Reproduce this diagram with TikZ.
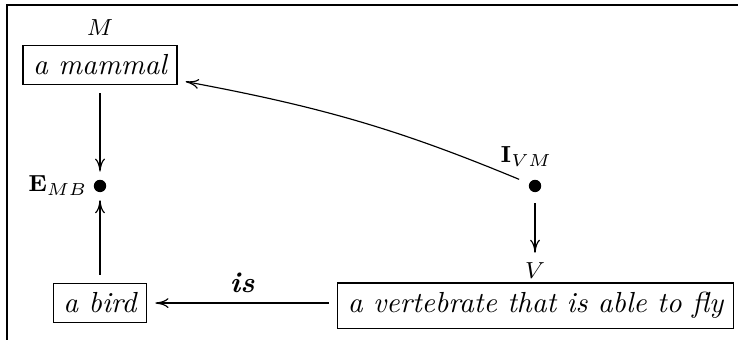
\documentclass[tikz,border=0pt]{standalone}
\usepackage{amsmath}
\usetikzlibrary{positioning,arrows.meta}
\tikzset{
  >={Computer Modern Rightarrow[length=4.5pt,width=3.4pt]},
  concept/.style={draw, inner xsep=3.5pt, inner ysep=3.3pt, outer sep=3pt, font=\itshape, anchor=base},
  relnode/.style={circle, fill, inner sep=0pt, minimum size=1.5mm, outer sep=0pt},
  tag/.style={font=\footnotesize},
}

\begin{document}
\begin{tikzpicture}[->]
    \useasboundingbox (0,0) rectangle (8.937,4.117);
    % frame
    \draw[-] (0.085,-0.2) -- (0.085,4.057) -- (9.2,4.057);
    % concepts
    \node[concept, anchor=center,
          label={[tag, inner sep=1pt, label distance=-1pt]above:$M$}] (mammal) at (1.211,3.330) {a mammal};
    \node[concept] (bird) at (1.211,0.327) {a bird};
    \node[concept] (vert) at (6.485,0.327) {a vertebrate that is able to fly};
    \node[tag] (vlab) at (6.479,0.836) {$V$};
    % relations
    \node[relnode, label={[tag, inner sep=2pt]left:$\mathbf{E}_{MB}$}] (emb) at (1.211,1.865) {};
    \node[relnode, label={[tag, inner sep=2pt, label distance=2.5pt, xshift=-3pt]above:$\mathbf{I}_{VM}$}] (ivm) at (6.479,1.865) {};
    \path
      (mammal) edge [shorten >=2.8pt] (emb)
      (bird) edge [shorten >=2.8pt] (emb)
      (ivm) edge [bend right=6, shorten <=3.8pt] (mammal.-11)
      (ivm) edge [shorten <=3.8pt] (vlab)
      (vert.west |- bird.east) edge node [above] {\textbf{\textit{is}}} (bird.east);
\end{tikzpicture}
\end{document}
